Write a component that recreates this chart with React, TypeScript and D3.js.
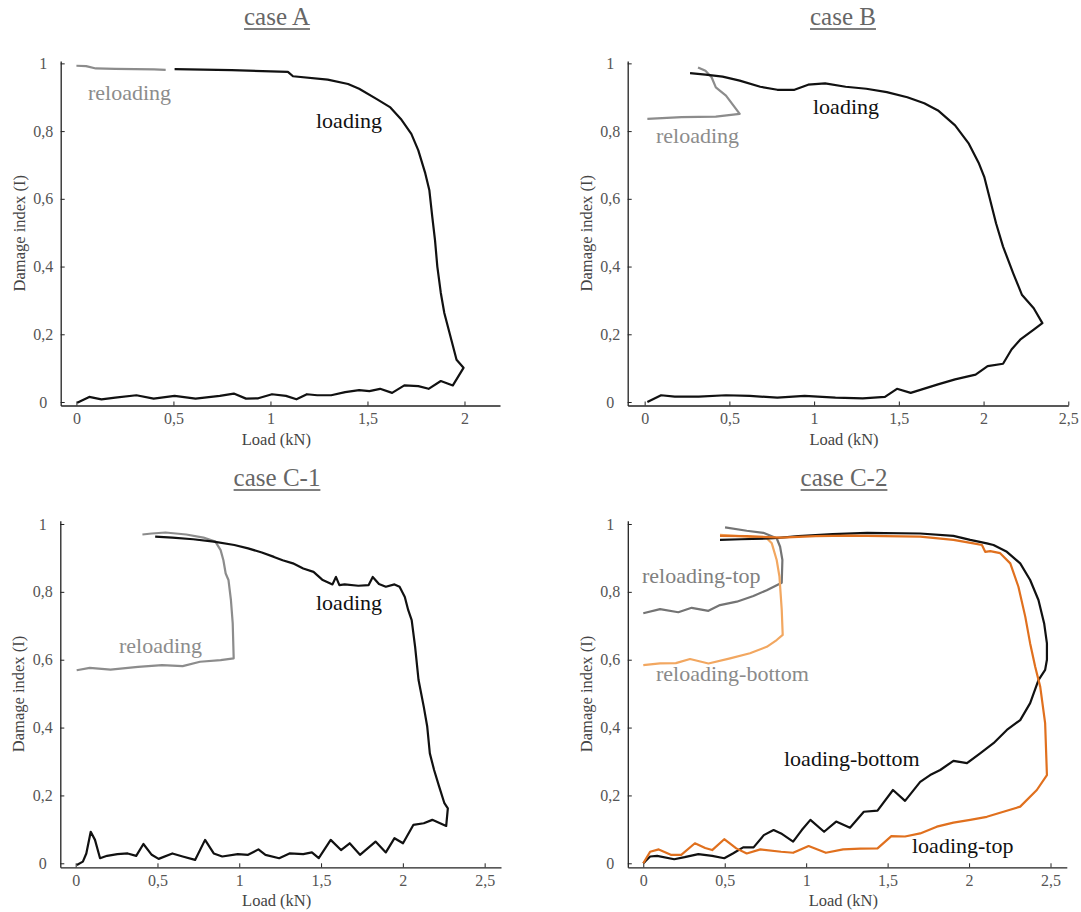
import React, { useRef, useEffect } from 'react';
import * as d3 from 'd3';

type Pt = [number, number];

// ---- data: [load (kN), damage index] ----
const caseALoading: Pt[] = [
  [0.004, -0.002], [0.066, 0.015], [0.129, 0.008], [0.2, 0.013], [0.309, 0.02], [0.398, 0.01], [0.506, 0.018],
  [0.614, 0.01], [0.739, 0.018], [0.811, 0.025], [0.874, 0.01], [0.937, 0.011], [1.008, 0.023], [1.08, 0.018],
  [1.134, 0.008], [1.188, 0.023], [1.241, 0.02], [1.313, 0.02], [1.385, 0.029], [1.457, 0.035], [1.51, 0.032],
  [1.565, 0.039], [1.627, 0.027], [1.69, 0.049], [1.762, 0.047], [1.815, 0.039], [1.878, 0.062], [1.94, 0.049],
  [1.995, 0.101], [1.959, 0.125], [1.923, 0.204], [1.896, 0.263], [1.878, 0.322], [1.86, 0.4], [1.848, 0.478],
  [1.834, 0.547], [1.819, 0.625], [1.798, 0.675], [1.762, 0.743], [1.726, 0.792], [1.672, 0.836], [1.618, 0.87],
  [1.546, 0.895], [1.457, 0.925], [1.4, 0.939], [1.295, 0.952], [1.116, 0.962], [1.09, 0.975], [0.8, 0.98],
  [0.506, 0.983],
];
const caseAReloading: Pt[] = [
  [0, 0.993], [0.05, 0.992], [0.1, 0.985], [0.2, 0.984], [0.3, 0.983], [0.4, 0.982], [0.46, 0.981],
];

const caseBLoading: Pt[] = [
  [0.016, 0], [0.097, 0.02], [0.178, 0.016], [0.319, 0.016], [0.48, 0.02], [0.621, 0.018], [0.783, 0.013],
  [0.944, 0.018], [1.126, 0.013], [1.287, 0.011], [1.418, 0.015], [1.489, 0.039], [1.57, 0.027], [1.731, 0.052],
  [1.832, 0.067], [1.953, 0.081], [2.024, 0.106], [2.115, 0.113], [2.165, 0.155], [2.216, 0.184], [2.296, 0.214],
  [2.347, 0.233], [2.296, 0.277], [2.226, 0.317], [2.175, 0.38], [2.115, 0.459], [2.074, 0.527], [2.034, 0.606],
  [2.004, 0.665], [1.973, 0.704], [1.913, 0.763], [1.832, 0.817], [1.731, 0.861], [1.65, 0.882], [1.55, 0.9],
  [1.429, 0.915], [1.308, 0.925], [1.186, 0.931], [1.065, 0.941], [0.965, 0.937], [0.884, 0.922], [0.783, 0.922],
  [0.682, 0.931], [0.561, 0.949], [0.46, 0.961], [0.359, 0.967], [0.268, 0.971],
];
const caseBReloading: Pt[] = [
  [0.016, 0.836], [0.218, 0.841], [0.42, 0.843], [0.561, 0.851], [0.48, 0.905], [0.42, 0.929], [0.395, 0.959],
  [0.359, 0.978], [0.315, 0.988],
];

const caseC1Loading: Pt[] = [
  [0.007, -0.005], [0.044, 0.005], [0.065, 0.029], [0.092, 0.093], [0.118, 0.069], [0.149, 0.015], [0.192, 0.022],
  [0.255, 0.027], [0.318, 0.029], [0.37, 0.022], [0.414, 0.057], [0.465, 0.025], [0.507, 0.013], [0.591, 0.029],
  [0.654, 0.02], [0.73, 0.01], [0.791, 0.069], [0.844, 0.029], [0.896, 0.02], [0.991, 0.027], [1.054, 0.025],
  [1.117, 0.041], [1.16, 0.025], [1.244, 0.015], [1.307, 0.029], [1.391, 0.027], [1.444, 0.032], [1.486, 0.015],
  [1.559, 0.069], [1.622, 0.039], [1.675, 0.059], [1.738, 0.025], [1.833, 0.064], [1.896, 0.032], [1.949, 0.074],
  [2.001, 0.059], [2.064, 0.113], [2.128, 0.118], [2.18, 0.128], [2.265, 0.11], [2.275, 0.162], [2.254, 0.177],
  [2.222, 0.226], [2.191, 0.275], [2.165, 0.324], [2.149, 0.403], [2.128, 0.461], [2.096, 0.54], [2.075, 0.638],
  [2.054, 0.717], [2.033, 0.746], [2.012, 0.785], [1.98, 0.815], [1.949, 0.822], [1.896, 0.815], [1.854, 0.823],
  [1.816, 0.844], [1.791, 0.82], [1.728, 0.818], [1.644, 0.822], [1.612, 0.82], [1.591, 0.844], [1.57, 0.822],
  [1.507, 0.836], [1.454, 0.859], [1.391, 0.869], [1.328, 0.884], [1.265, 0.893], [1.212, 0.903], [1.138, 0.916],
  [1.054, 0.928], [0.97, 0.938], [0.844, 0.948], [0.718, 0.955], [0.591, 0.96], [0.486, 0.963],
];
const caseC1Reloading: Pt[] = [
  [0.006, 0.569], [0.086, 0.576], [0.213, 0.571], [0.381, 0.579], [0.528, 0.584], [0.654, 0.581], [0.76, 0.594],
  [0.886, 0.599], [0.966, 0.604], [0.96, 0.707], [0.949, 0.776], [0.934, 0.835], [0.917, 0.854], [0.903, 0.893],
  [0.886, 0.923], [0.854, 0.948], [0.781, 0.96], [0.676, 0.969], [0.549, 0.975], [0.465, 0.972], [0.408, 0.969],
];

const caseC2LoadingBottom: Pt[] = [
  [0, 0], [0.011, 0.005], [0.042, 0.02], [0.085, 0.022], [0.19, 0.012], [0.254, 0.018], [0.338, 0.027],
  [0.423, 0.022], [0.497, 0.015], [0.55, 0.029], [0.613, 0.047], [0.677, 0.047], [0.74, 0.083], [0.8, 0.098],
  [0.846, 0.088], [0.92, 0.064], [0.973, 0.098], [1.026, 0.128], [1.11, 0.093], [1.184, 0.123], [1.269, 0.105],
  [1.354, 0.152], [1.438, 0.155], [1.533, 0.216], [1.607, 0.184], [1.7, 0.24], [1.761, 0.26], [1.823, 0.275],
  [1.904, 0.302], [1.987, 0.295], [2.068, 0.324], [2.15, 0.354], [2.232, 0.393], [2.314, 0.422], [2.375, 0.472],
  [2.426, 0.54], [2.467, 0.57], [2.478, 0.6], [2.478, 0.648], [2.461, 0.707], [2.426, 0.776], [2.375, 0.835],
  [2.314, 0.884], [2.232, 0.918], [2.15, 0.938], [2.109, 0.943], [2.007, 0.953], [1.904, 0.965], [1.7, 0.972],
  [1.375, 0.974], [1.163, 0.97], [0.952, 0.964], [0.8, 0.958], [0.6, 0.955], [0.471, 0.953],
];
const caseC2LoadingTop: Pt[] = [
  [0, 0], [0.042, 0.034], [0.095, 0.041], [0.169, 0.025], [0.233, 0.025], [0.317, 0.059], [0.38, 0.045],
  [0.423, 0.039], [0.497, 0.071], [0.571, 0.044], [0.635, 0.029], [0.719, 0.041], [0.846, 0.034], [0.92, 0.031],
  [1.015, 0.051], [1.121, 0.031], [1.227, 0.041], [1.332, 0.043], [1.438, 0.044], [1.523, 0.08], [1.607, 0.079],
  [1.7, 0.088], [1.802, 0.108], [1.904, 0.12], [2.007, 0.128], [2.109, 0.137], [2.211, 0.152], [2.314, 0.167],
  [2.416, 0.216], [2.478, 0.26], [2.467, 0.413], [2.437, 0.52], [2.406, 0.579], [2.375, 0.648], [2.345, 0.727],
  [2.303, 0.815], [2.253, 0.884], [2.191, 0.914], [2.13, 0.92], [2.099, 0.918], [2.079, 0.938], [2.027, 0.943],
  [1.904, 0.953], [1.7, 0.963], [1.481, 0.964], [1.269, 0.966], [1.058, 0.964], [0.846, 0.96], [0.635, 0.964],
  [0.471, 0.965],
];
const caseC2ReloadingTop: Pt[] = [
  [0, 0.737], [0.103, 0.749], [0.215, 0.74], [0.297, 0.753], [0.4, 0.744], [0.471, 0.761], [0.574, 0.771],
  [0.676, 0.788], [0.758, 0.805], [0.85, 0.827], [0.854, 0.894], [0.84, 0.933], [0.819, 0.958], [0.737, 0.974],
  [0.635, 0.98], [0.502, 0.99],
];
const caseC2ReloadingBottom: Pt[] = [
  [0, 0.584], [0.103, 0.589], [0.2, 0.59], [0.287, 0.602], [0.4, 0.589], [0.533, 0.604], [0.655, 0.619],
  [0.758, 0.638], [0.819, 0.658], [0.856, 0.673], [0.85, 0.747], [0.836, 0.845], [0.819, 0.894], [0.789, 0.943],
  [0.758, 0.958], [0.635, 0.963], [0.471, 0.968],
];

const xTicksA = [0, 0.5, 1, 1.5, 2];
const xTicksFull = [0, 0.5, 1, 1.5, 2, 2.5];
const yTicks = [0, 0.2, 0.4, 0.6, 0.8, 1];

const titles = ['case A', 'case B', 'case C-1', 'case C-2'];

interface Series { data: Pt[]; color: string; }
interface Label { text: string; x: number; y: number; color: string; }
interface PanelCfg {
  title: string;
  titleX: number;
  titleY: number;
  xDomain: [number, number];
  xRange: [number, number];
  yDomain: [number, number];
  yRange: [number, number];
  xTicks: number[];
  series: Series[];
  labels: Label[];
}

const BLACK = '#111';
const GREY = '#8c8c8c';

const panels: PanelCfg[] = [
  {
    title: titles[0], titleX: 277, titleY: 25,
    xDomain: [-0.081, 2.183], xRange: [60.7, 500],
    yDomain: [-0.0103, 1.007], yRange: [405.5, 61],
    xTicks: xTicksA,
    series: [{ data: caseAReloading, color: GREY }, { data: caseALoading, color: BLACK }],
    labels: [
      { text: 'reloading', x: 88, y: 100, color: GREY },
      { text: 'loading', x: 316, y: 128, color: BLACK },
    ],
  },
  {
    title: titles[1], titleX: 843, titleY: 25,
    xDomain: [-0.1, 2.5], xRange: [627.7, 1068.3],
    yDomain: [-0.0103, 1.007], yRange: [405.5, 61],
    xTicks: xTicksFull,
    series: [{ data: caseBReloading, color: GREY }, { data: caseBLoading, color: BLACK }],
    labels: [
      { text: 'reloading', x: 656, y: 143, color: GREY },
      { text: 'loading', x: 813, y: 114, color: BLACK },
    ],
  },
  {
    title: titles[2], titleX: 277, titleY: 486,
    xDomain: [-0.094, 2.6], xRange: [60.3, 501],
    yDomain: [-0.0118, 1.0097], yRange: [867.3, 520.7],
    xTicks: xTicksFull,
    series: [{ data: caseC1Reloading, color: GREY }, { data: caseC1Loading, color: BLACK }],
    labels: [
      { text: 'reloading', x: 119, y: 653, color: GREY },
      { text: 'loading', x: 316, y: 610, color: BLACK },
    ],
  },
  {
    title: titles[3], titleX: 844, titleY: 486,
    xDomain: [-0.095, 2.6], xRange: [627.8, 1066.8],
    yDomain: [-0.0118, 1.0097], yRange: [867.3, 520.7],
    xTicks: xTicksFull,
    series: [
      { data: caseC2ReloadingTop, color: '#747474' },
      { data: caseC2ReloadingBottom, color: '#f2a760' },
      { data: caseC2LoadingBottom, color: BLACK },
      { data: caseC2LoadingTop, color: '#e0701e' },
    ],
    labels: [
      { text: 'reloading-top', x: 642, y: 583, color: '#808080' },
      { text: 'reloading-bottom', x: 656, y: 681, color: '#8a8a8a' },
      { text: 'loading-bottom', x: 784, y: 766, color: BLACK },
      { text: 'loading-top', x: 912, y: 853, color: BLACK },
    ],
  },
];

const FONT = '"Liberation Serif", "Times New Roman", serif';
const fmt = (d: number) => String(d).replace('.', ',');

const App: React.FC = () => {
  const svgRef = useRef<SVGSVGElement | null>(null);

  useEffect(() => {
    const svg = d3.select(svgRef.current);
    svg.selectAll('*').remove();

    panels.forEach((p) => {
      const x = d3.scaleLinear().domain(p.xDomain).range(p.xRange);
      const y = d3.scaleLinear().domain(p.yDomain).range(p.yRange);
      const g = svg.append('g');

      // title with underline
      const title = g.append('text')
        .attr('x', p.titleX)
        .attr('y', p.titleY)
        .attr('text-anchor', 'middle')
        .attr('font-family', FONT)
        .attr('font-size', 25)
        .attr('fill', '#666')
        .text(p.title);
      const tw = (title.node() as SVGTextElement).getComputedTextLength();
      g.append('line')
        .attr('x1', p.titleX - tw / 2).attr('x2', p.titleX + tw / 2)
        .attr('y1', p.titleY + 4).attr('y2', p.titleY + 4)
        .attr('stroke', '#555').attr('stroke-width', 1.6);

      // axes, ticks pointing inward
      const xAxis = d3.axisBottom(x).tickValues(p.xTicks).tickFormat((d) => fmt(+d))
        .tickSizeInner(-4).tickSizeOuter(0).tickPadding(7.5);
      const yAxis = d3.axisLeft(y).tickValues(yTicks).tickFormat((d) => fmt(+d))
        .tickSizeInner(-4).tickSizeOuter(0).tickPadding(0);

      const gx = g.append('g').attr('transform', `translate(0,${p.yRange[0]})`).call(xAxis);
      const gy = g.append('g').attr('transform', `translate(${p.xRange[0]},0)`).call(yAxis);

      [gx, gy].forEach((ax) => {
        ax.select('.domain').attr('stroke', '#222').attr('stroke-width', 1.3);
        ax.selectAll('.tick line').attr('stroke', '#222').attr('stroke-width', 1);
        ax.selectAll('.tick text')
          .attr('font-family', FONT)
          .attr('font-size', 16)
          .attr('fill', '#555');
      });
      gy.selectAll('.tick text').attr('text-anchor', 'middle').attr('x', -17.5);

      // axis titles
      const xMid = (p.xRange[0] + p.xRange[1]) / 2;
      g.append('text')
        .attr('x', xMid - 4)
        .attr('y', p.yRange[0] + 39)
        .attr('text-anchor', 'middle')
        .attr('font-family', FONT)
        .attr('font-size', 16.5)
        .attr('fill', '#444')
        .text('Load (kN)');
      const yMid = (p.yRange[0] + p.yRange[1]) / 2;
      g.append('text')
        .attr('transform', `translate(${p.xRange[0] - 36},${yMid}) rotate(-90)`)
        .attr('text-anchor', 'middle')
        .attr('font-family', FONT)
        .attr('font-size', 16.5)
        .attr('fill', '#444')
        .text('Damage index (I)');

      // curves
      const line = d3.line<Pt>().x((d) => x(d[0])).y((d) => y(d[1]));
      p.series.forEach((s) => {
        g.append('path')
          .datum(s.data)
          .attr('d', line)
          .attr('fill', 'none')
          .attr('stroke', s.color)
          .attr('stroke-width', 2.2)
          .attr('stroke-linejoin', 'round');
      });

      // in-plot labels
      p.labels.forEach((l) => {
        g.append('text')
          .attr('x', l.x)
          .attr('y', l.y)
          .attr('font-family', FONT)
          .attr('font-size', 22)
          .attr('fill', l.color)
          .text(l.text);
      });
    });
  }, []);

  return (
    <svg
      ref={svgRef}
      width={1081}
      height={912}
      style={{ position: 'absolute', left: 0, top: 0, background: '#fff' }}
    />
  );
};

export default App;
